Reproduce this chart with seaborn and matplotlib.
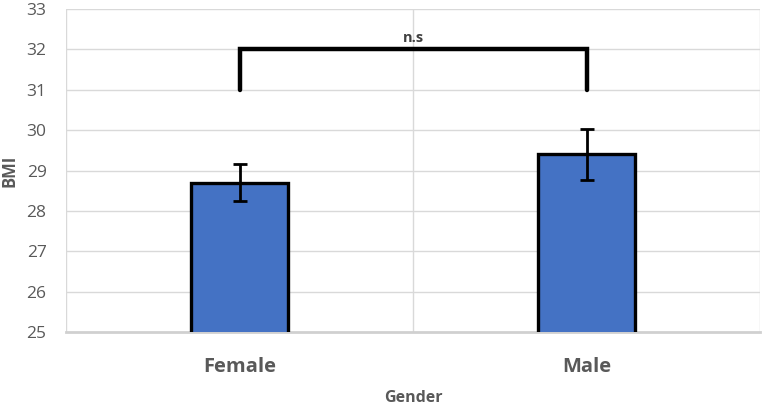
import matplotlib
matplotlib.use("Agg")
import matplotlib.pyplot as plt
import seaborn as sns
import pandas as pd

# data
genders = ["Female", "Male"]
bmi_mean = [28.70, 29.40]
bmi_err = [0.45, 0.63]
bracket_low = 31
bracket_high = 32
sig_label = "n.s"

df = pd.DataFrame({"Gender": genders, "BMI": bmi_mean})

sns.set_style("white")
plt.rcParams["font.family"] = ["Open Sans", "DejaVu Sans"]
grey = "#595959"

fig = plt.figure(figsize=(7.62, 4.07), dpi=100)
ax = fig.add_axes([0.0866, 0.184, 0.911, 0.794])

sns.barplot(data=df, x="Gender", y="BMI", color="#4472C4", width=0.28,
            edgecolor="black", linewidth=2.4, saturation=1, ax=ax, zorder=3)
ax.errorbar(range(len(genders)), bmi_mean, yerr=bmi_err, fmt="none",
            ecolor="black", elinewidth=2, capsize=5, capthick=2, zorder=4)

# significance bracket
ax.plot([0, 0, 1, 1], [bracket_low, bracket_high, bracket_high, bracket_low],
        color="black", lw=3.2, solid_joinstyle="miter", zorder=5)
ax.text(0.5, bracket_high + 0.12, sig_label, ha="center", va="bottom",
        fontsize=10.5, fontweight="bold", color="#404040")

ax.set_ylim(25, 33)
ax.set_xlim(-0.5, 1.5)
ax.set_yticks(range(25, 34))
ax.set_xticks([0, 1])
ax.set_xticklabels(genders, fontsize=14.5, fontweight="bold", color=grey)
ax.tick_params(axis="y", labelsize=12.5, colors=grey, length=0, pad=14)
ax.tick_params(axis="x", length=0, pad=18)

# grid lines
for y in range(26, 34):
    ax.axhline(y, color="#d9d9d9", lw=1, zorder=0)
for x in [-0.5, 0.5, 1.5]:
    ax.axvline(x, color="#d9d9d9", lw=1, zorder=0)

for s in ["top", "right", "left"]:
    ax.spines[s].set_visible(False)
ax.spines["bottom"].set_color("#d0d0d0")
ax.spines["bottom"].set_linewidth(2)

ax.set_xlabel("Gender", fontsize=11.5, fontweight="bold", color=grey, labelpad=9)
ax.set_ylabel("BMI", fontsize=12, fontweight="bold", color=grey, labelpad=6)

fig.savefig("out.png", dpi=100)
